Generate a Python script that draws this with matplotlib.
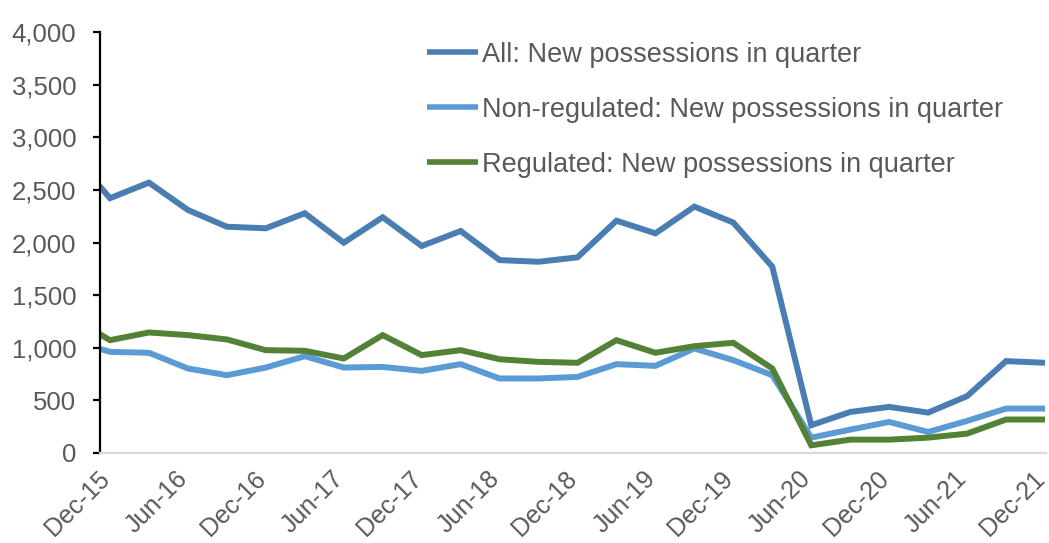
import matplotlib
matplotlib.use("Agg")
import matplotlib.pyplot as plt
import matplotlib.transforms as mtransforms
from matplotlib.ticker import FuncFormatter

quarters = ["Sep-15", "Dec-15", "Mar-16", "Jun-16", "Sep-16", "Dec-16", "Mar-17", "Jun-17",
            "Sep-17", "Dec-17", "Mar-18", "Jun-18", "Sep-18", "Dec-18", "Mar-19", "Jun-19",
            "Sep-19", "Dec-19", "Mar-20", "Jun-20", "Sep-20", "Dec-20", "Mar-21", "Jun-21",
            "Sep-21", "Dec-21"]
all_vals = [2850, 2421, 2569, 2309, 2150, 2135, 2278, 1998, 2240, 1967, 2109, 1833, 1817,
            1859, 2207, 2087, 2341, 2189, 1770, 264, 390, 438, 384, 540, 873, 857]
nonreg_vals = [1070, 961, 952, 803, 739, 812, 920, 812, 818, 780, 844, 708, 708, 723, 844,
               828, 993, 882, 739, 146, 222, 295, 200, 305, 422, 422]
reg_vals = [1290, 1072, 1145, 1120, 1079, 977, 971, 898, 1120, 930, 977, 891, 866, 857,
            1072, 952, 1015, 1047, 803, 73, 127, 127, 146, 184, 318, 318]
tick_labels = ["Dec-15", "Jun-16", "Dec-16", "Jun-17", "Dec-17", "Jun-18", "Dec-18",
               "Jun-19", "Dec-19", "Jun-20", "Dec-20", "Jun-21", "Dec-21"]

plt.rcParams['font.family'] = ['Liberation Sans', 'DejaVu Sans']

W, H = 1049, 543
fig = plt.figure(figsize=(W / 100, H / 100), dpi=100)
ax = fig.add_axes([100 / W, 1 - 453 / H, 946 / W, 421 / H])

x = list(range(-1, len(quarters) - 1))
kw = dict(linewidth=4.3, solid_capstyle='butt', solid_joinstyle='miter')
ax.plot(x, all_vals, color="#4A7EB3", label="All: New possessions in quarter", **kw)
ax.plot(x, nonreg_vals, color="#5B9BD5", label="Non-regulated: New possessions in quarter", **kw)
ax.plot(x, reg_vals, color="#538135", label="Regulated: New possessions in quarter", **kw)

ax.set_xlim(-10 / 38.96, 24 + 1 / 38.96)
ax.set_ylim(0, 4000)
ax.set_yticks(range(0, 4001, 500))
ax.yaxis.set_major_formatter(FuncFormatter(lambda v, p: f"{int(v):,}"))

tick_pos = [2 * i for i in range(len(tick_labels))]
ax.set_xticks(tick_pos)
ax.set_xticklabels([])
shift = mtransforms.ScaledTranslation(-4 / 100, -22 / 100, fig.dpi_scale_trans)
for pos, lab in zip(tick_pos, tick_labels):
    ax.text(pos, 0, lab, transform=ax.get_xaxis_transform() + shift, rotation=45,
            ha='right', va='center', rotation_mode='anchor', fontsize=18,
            color='#595959', clip_on=False)

for s in ['top', 'right']:
    ax.spines[s].set_visible(False)
ax.spines['left'].set_color('black')
ax.spines['left'].set_linewidth(1.6)
ax.spines['bottom'].set_color('#d9d9d9')
ax.spines['bottom'].set_linewidth(1.6)

ax.tick_params(axis='y', direction='out', length=5, width=1.6, color='black',
               labelsize=18.5, labelcolor='#595959', pad=12)
ax.tick_params(axis='x', length=0)

leg = ax.legend(loc='upper left', bbox_to_anchor=(416 / W, 1 - 31 / H),
                bbox_transform=fig.transFigure, frameon=False,
                fontsize=19.5, handlelength=1.9, handletextpad=0.12, labelspacing=1.07,
                borderaxespad=0.0)
for t in leg.get_texts():
    t.set_color('#595959')
for l in leg.get_lines():
    l.set_linewidth(4)

fig.savefig("out.png", dpi=100)
